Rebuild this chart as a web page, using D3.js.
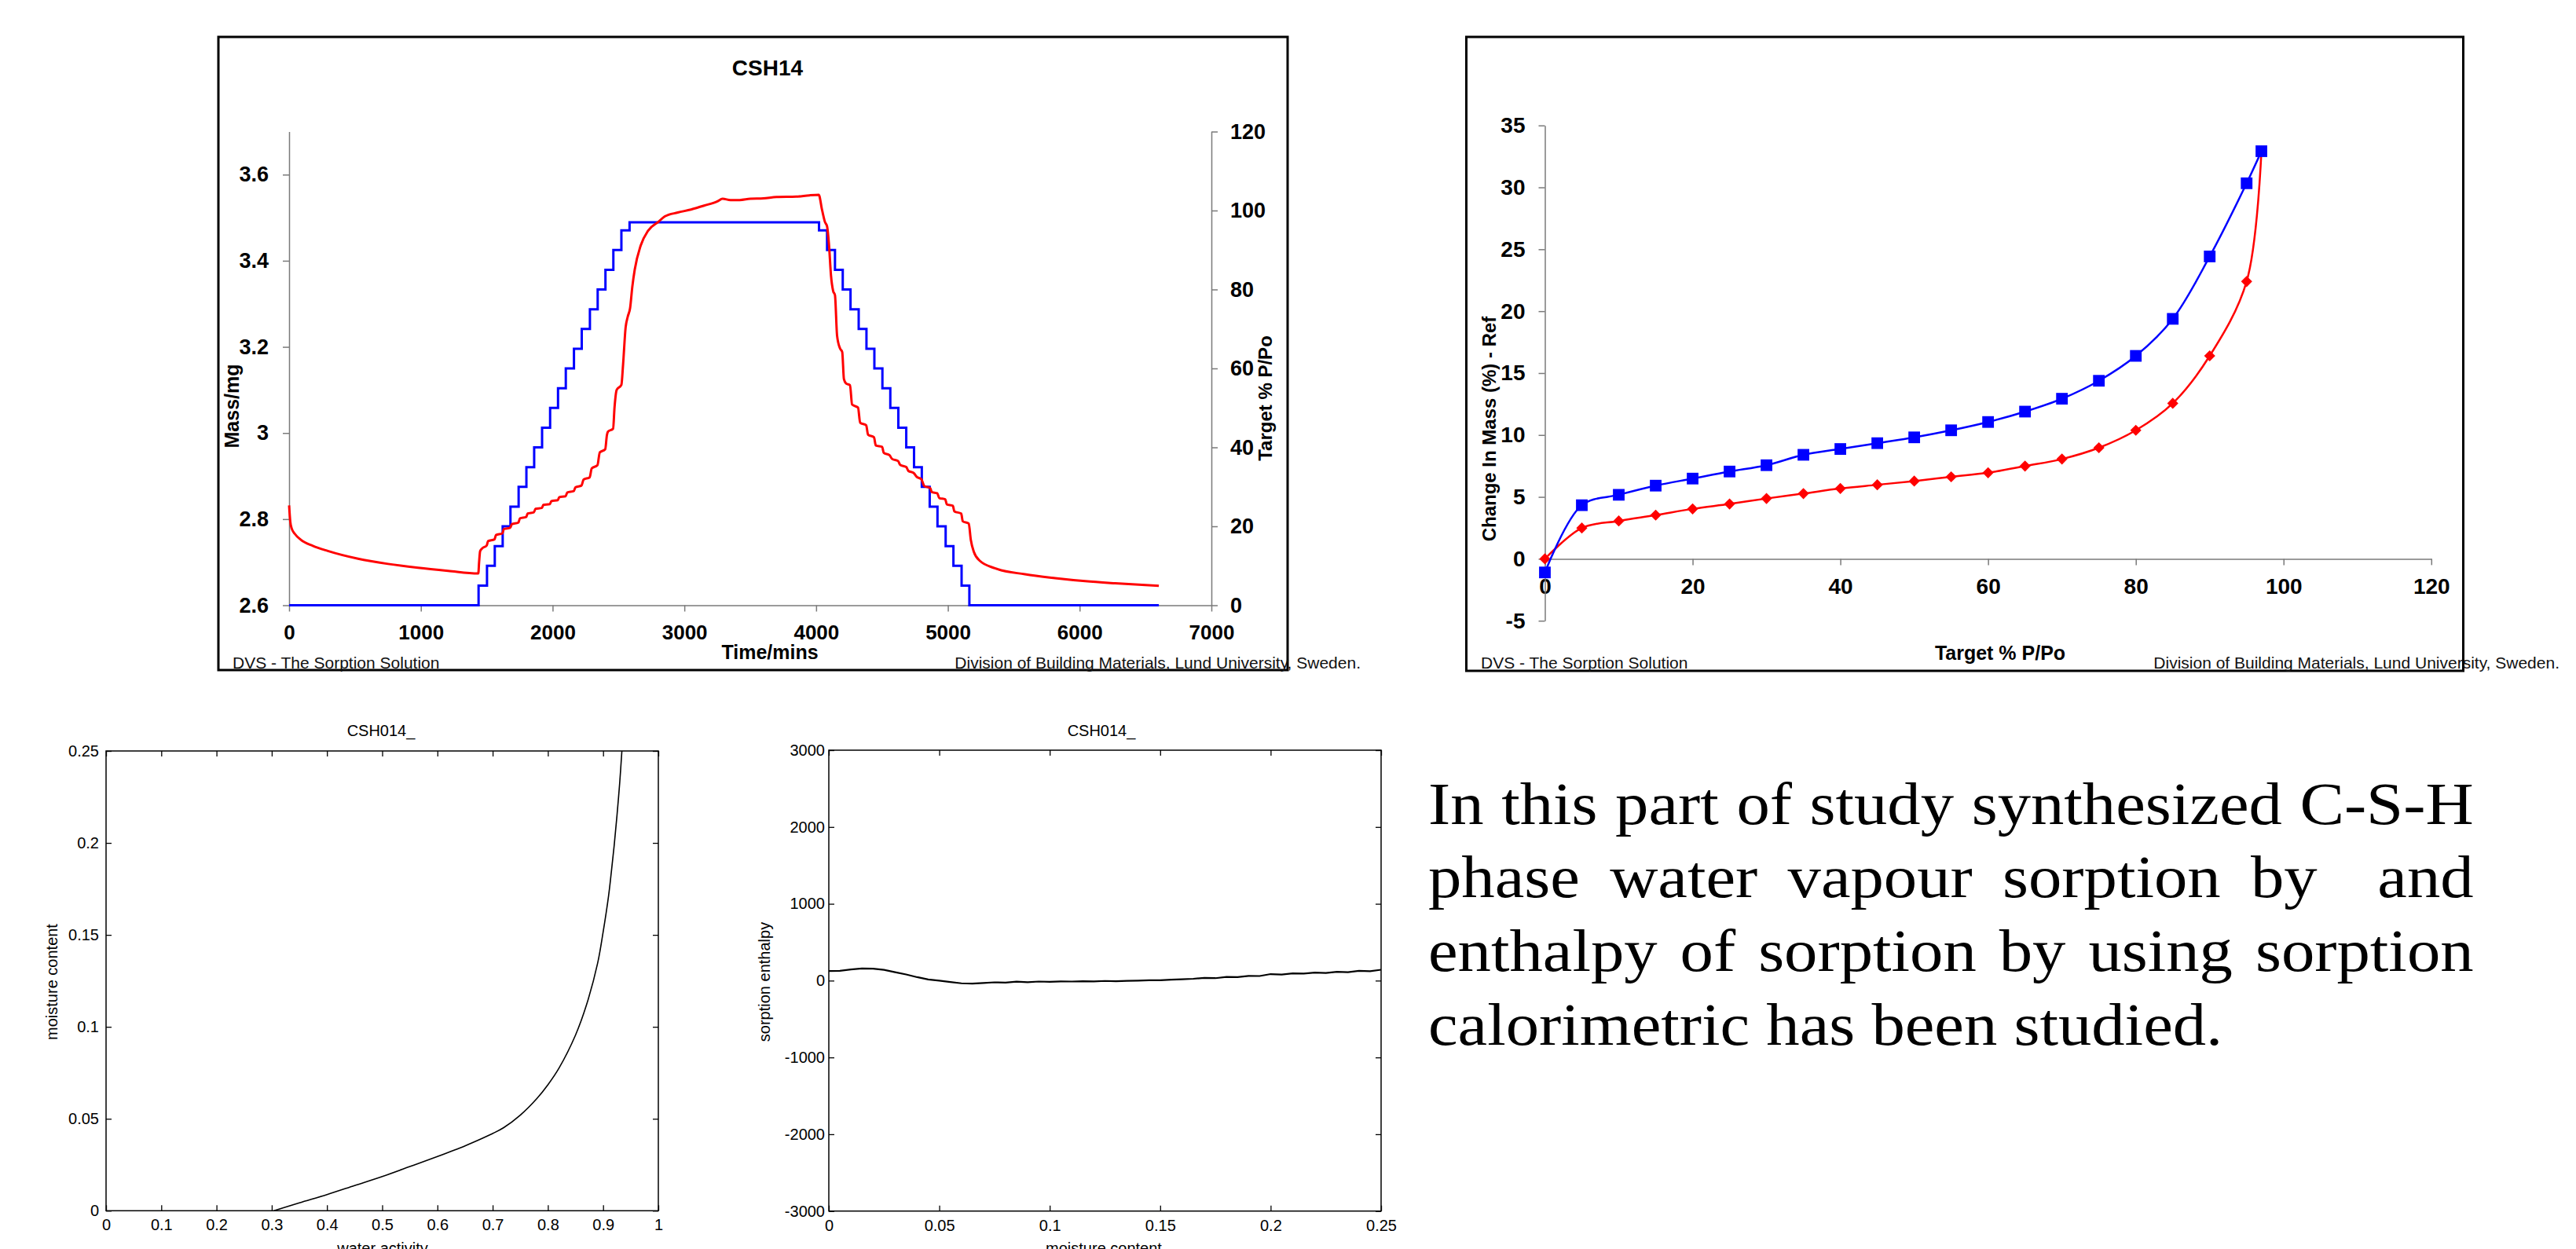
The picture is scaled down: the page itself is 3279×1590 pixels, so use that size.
<!DOCTYPE html>
<html><head><meta charset="utf-8">
<script src="https://cdn.jsdelivr.net/npm/d3@7"></script>
<style>
html,body{margin:0;padding:0;background:#fff;}
svg{display:block;}
</style></head><body>
<script>
// ---------- Chart 1: CSH14 DVS kinetics ----------
const massCurve = [
 [0,2.832],[9,2.794],[20,2.778],[43,2.766],[89,2.752],[180,2.738],[294,2.726],[523,2.708],[751,2.696],[979,2.687],[1207,2.680],[1436,2.674],
 [1442,2.700],[1450,2.726],[1465,2.732],[1500,2.739],
 [1510,2.749],[1559,2.753],[1570,2.763],[1619,2.767],[1630,2.777],[1678,2.780],[1690,2.788],[1740,2.792],[1752,2.802],[1799,2.805],[1811,2.813],
 [1858,2.816],[1870,2.824],[1918,2.826],[1930,2.833],[1979,2.835],[1991,2.842],[2039,2.844],[2051,2.851],[2098,2.853],[2112,2.862],[2160,2.865],
 [2174,2.874],[2219,2.878],[2235,2.892],[2281,2.897],[2297,2.918],[2340,2.925],[2358,2.955],[2399,2.962],[2412,2.995],[2420,3.003],[2459,3.010],
 [2470,3.060],[2486,3.100],[2522,3.112],[2535,3.160],[2554,3.245],[2570,3.270],[2588,3.290],[2605,3.340],[2623,3.379],[2668,3.435],[2725,3.470],
 [2805,3.491],[2851,3.503],[2950,3.512],[3050,3.519],[3150,3.528],[3250,3.538],[3290,3.544],[3350,3.541],[3420,3.541],[3500,3.544],[3600,3.545],
 [3700,3.548],[3850,3.549],[3950,3.552],[4020,3.553],
 [4045,3.518],[4067,3.490],[4083,3.480],[4097,3.440],[4113,3.365],[4129,3.330],[4143,3.320],[4159,3.226],[4182,3.196],[4198,3.188],[4211,3.125],
 [4227,3.115],[4257,3.111],[4273,3.066],[4318,3.059],[4334,3.024],[4380,3.018],[4394,2.996],[4439,2.990],[4453,2.971],[4501,2.968],[4513,2.954],
 [4558,2.948],[4576,2.940],[4622,2.935],[4638,2.926],[4684,2.921],[4700,2.912],[4741,2.907],[4764,2.898],[4798,2.893],[4821,2.877],[4866,2.872],
 [4878,2.863],[4919,2.860],[4935,2.849],[4980,2.846],[4992,2.834],[5038,2.831],[5049,2.818],[5101,2.813],[5113,2.795],[5158,2.790],[5174,2.752],
 [5197,2.724],[5243,2.703],[5357,2.686],[5585,2.672],[5814,2.663],[6042,2.656],[6270,2.651],[6601,2.645]
];
const rhTime = [0,1438,1502,1561,1621,1680,1742,1801,1860,1920,1981,2041,2100,2162,2221,2283,2342,2401,2461,2522,2584,
  4022,4083,4143,4202,4261,4323,4382,4442,4503,4563,4624,4684,4743,4802,4862,4921,4983,5042,5104,5163];
const rhLevel = [0,5,10,15,20,25,30,35,40,45,50,55,60,65,70,75,80,85,90,95,97,
  95,90,85,80,75,70,65,60,55,50,45,40,35,30,25,20,15,10,5,0];
const rhEndTime = 6601;
const timeTicks = [0,1000,2000,3000,4000,5000,6000,7000];
const massTicks = [2.6,2.8,3.0,3.2,3.4,3.6];
const rhTicks = [0,20,40,60,80,100,120];

// ---------- Chart 2: isotherm ----------
const isoRH  = [0,5,10,15,20,25,30,35,40,45,50,55,60,65,70,75,80,85,90,95,97];
const isoAds = [-1.1,4.33,5.17,5.91,6.48,7.05,7.56,8.40,8.87,9.34,9.81,10.38,11.05,11.89,12.93,14.38,16.39,19.38,24.42,30.33,32.92];
const isoDes = [0,2.49,3.06,3.53,4.03,4.43,4.87,5.27,5.68,5.98,6.28,6.62,6.95,7.49,8.06,8.97,10.38,12.56,16.39,22.40,32.92];
const isoXTicks = [0,20,40,60,80,100,120];
const isoYTicks = [-5,0,5,10,15,20,25,30,35];

// ---------- Chart 3: moisture content vs water activity ----------
const awValues = [0.304,0.35,0.4,0.45,0.5,0.55,0.6,0.65,0.68,0.7,0.72,0.75,0.78,0.8,0.82,0.85,0.87,0.89,0.9,0.91,0.915,0.92,0.925,0.93,0.934];
const mcValues = [0,0.0043,0.0088,0.0137,0.0186,0.024,0.0295,0.0353,0.0392,0.0420,0.0452,0.0520,0.0610,0.0685,0.0775,0.0955,0.1120,0.1345,0.1515,0.1715,0.1845,0.1985,0.2145,0.2325,0.25];
const awTicks = [0,0.1,0.2,0.3,0.4,0.5,0.6,0.7,0.8,0.9,1];
const mcTicks = [0,0.05,0.1,0.15,0.2,0.25];

// ---------- Chart 4: sorption enthalpy vs moisture content ----------
const enthMC = [0,0.005,0.01,0.015,0.02,0.025,0.03,0.035,0.04,0.045,0.05,0.055,0.06,0.065,0.07,0.075,0.08,0.085,0.09,0.095,
  0.1,0.105,0.11,0.115,0.12,0.125,0.13,0.135,0.14,0.145,0.15,0.155,0.16,0.165,0.17,0.175,0.18,0.185,0.19,0.195,
  0.2,0.205,0.21,0.215,0.22,0.225,0.23,0.235,0.24,0.245,0.25];
const enthValue = [125,128,145,158,155,140,110,80,45,15,0,-18,-35,-38,-30,-22,-25,-14,-20,-12,
  -15,-10,-12,-8,-10,-4,-8,-2,0,5,4,12,18,24,35,32,48,45,62,60,
  85,80,95,92,105,100,115,110,128,122,142];
const enthXTicks = [0,0.05,0.1,0.15,0.2,0.25];
const enthYTicks = [-3000,-2000,-1000,0,1000,2000,3000];

// ---------- Text ----------
const paraJustified = [
  ["In","this","part","of","study","synthesized","C-S-H"],
  ["phase","water","vapour","sorption","by","","and"],
  ["enthalpy","of","sorption","by","using","sorption"]
];
const paraLast = "calorimetric has been studied.";

// ================= drawing =================
const SANS = "'Liberation Sans', Arial, Helvetica, sans-serif";
const SERIF = "'Liberation Serif', 'Times New Roman', serif";
const svg = d3.select('body').append('svg').attr('width',3279).attr('height',1590);
svg.append('rect').attr('width',3279).attr('height',1590).attr('fill','#fff');

function txt(x,y,s,opt){
  opt = opt||{};
  const t = svg.append('text').attr('x',x).attr('y',y).text(s)
    .attr('font-family',opt.family||SANS).attr('font-size',opt.size||20)
    .attr('font-weight',opt.weight||'normal').attr('fill',opt.fill||'#000')
    .attr('text-anchor',opt.anchor||'start');
  if(opt.rotate) t.attr('transform',`rotate(${opt.rotate},${x},${y})`);
  return t;
}
function styleExcelAxis(g,fs){
  g.attr('font-size',null).attr('font-family',null);
  g.select('.domain').attr('stroke','#7a7a7a').attr('stroke-width',1.5);
  g.selectAll('.tick line').attr('stroke','#7a7a7a').attr('stroke-width',1.5);
  g.selectAll('.tick text').attr('font-family',SANS).attr('font-weight','bold').attr('font-size',fs).attr('fill','#000');
}
// plain ASCII hyphen for negatives, as in the reference
const fmt = d => String(+(+d).toFixed(4));

// ---- Chart 1 ----
svg.append('rect').attr('x',278).attr('y',47).attr('width',1639-278).attr('height',853-47)
  .attr('fill','none').attr('stroke','#000').attr('stroke-width',3);
const x1 = d3.scaleLinear().domain([0,7000]).range([368,1542]);
const yM = d3.scaleLinear().domain([2.6,3.7]).range([770.5,167.5]);
const yR = d3.scaleLinear().domain([0,120]).range([770.5,167.5]);
svg.append('g').attr('transform','translate(0,770.5)')
  .call(d3.axisBottom(x1).tickValues(timeTicks).tickFormat(fmt).tickSize(8).tickSizeOuter(0).tickPadding(17))
  .call(g=>styleExcelAxis(g,26));
svg.append('g').attr('transform','translate(368,0)')
  .call(d3.axisLeft(yM).tickValues(massTicks).tickFormat(fmt).tickSize(8).tickSizeOuter(0).tickPadding(18))
  .call(g=>styleExcelAxis(g,27));
svg.append('g').attr('transform','translate(1542,0)')
  .call(d3.axisRight(yR).tickValues(rhTicks).tickFormat(fmt).tickSize(8).tickSizeOuter(0).tickPadding(16))
  .call(g=>styleExcelAxis(g,27));
const rhSteps = rhTime.map((t,i)=>[t,rhLevel[i]]).concat([[rhEndTime,0]]);
svg.append('path').datum(rhSteps).attr('fill','none').attr('stroke','#0000ff').attr('stroke-width',3)
  .attr('d',d3.line().x(d=>x1(d[0])).y(d=>yR(d[1])).curve(d3.curveStepAfter));
svg.append('path').datum(massCurve).attr('fill','none').attr('stroke','#ff0000').attr('stroke-width',3)
  .attr('stroke-linejoin','round')
  .attr('d',d3.line().x(d=>x1(d[0])).y(d=>yM(d[1])).curve(d3.curveMonotoneX));
txt(977,96,'CSH14',{size:28,weight:'bold',anchor:'middle'});
txt(304,517,'Mass/mg',{size:25,weight:'bold',anchor:'middle',rotate:-90});
txt(980,839,'Time/mins',{size:25,weight:'bold',anchor:'middle'});
txt(1619,507,'Target % P/Po',{size:24,weight:'bold',anchor:'middle',rotate:-90});
txt(296,851,'DVS - The Sorption Solution',{size:21,fill:'#111'});
txt(1732,851,'Division of Building Materials, Lund University, Sweden.',{size:21,fill:'#111',anchor:'end'});

// ---- Chart 2 ----
svg.append('rect').attr('x',1866.5).attr('y',47).attr('width',3135.5-1866.5).attr('height',854-47)
  .attr('fill','none').attr('stroke','#000').attr('stroke-width',3);
const x2 = d3.scaleLinear().domain([0,120]).range([1966.5,3094.8]);
const y2 = d3.scaleLinear().domain([-5,35]).range([790.2,159.7]);
svg.append('g').attr('transform',`translate(0,${y2(0)})`)
  .call(d3.axisBottom(x2).tickValues(isoXTicks).tickFormat(fmt).tickSize(8).tickSizeOuter(0).tickPadding(17))
  .call(g=>styleExcelAxis(g,28));
svg.append('g').attr('transform',`translate(${x2(0)},0)`)
  .call(d3.axisLeft(y2).tickValues(isoYTicks).tickFormat(fmt).tickSize(8).tickSizeOuter(0).tickPadding(17))
  .call(g=>styleExcelAxis(g,28));
const smooth = d3.line().x(d=>x2(d[0])).y(d=>y2(d[1])).curve(d3.curveCatmullRom.alpha(0.5));
const desPts = isoRH.map((r,i)=>[r,isoDes[i]]);
const adsPts = isoRH.map((r,i)=>[r,isoAds[i]]);
svg.append('path').datum(desPts).attr('fill','none').attr('stroke','#ff0000').attr('stroke-width',2.5).attr('d',smooth);
svg.append('g').selectAll('path').data(desPts).join('path')
  .attr('d',d3.symbol(d3.symbolSquare,100))
  .attr('transform',d=>`translate(${x2(d[0])},${y2(d[1])}) rotate(45)`).attr('fill','#ff0000');
svg.append('path').datum(adsPts).attr('fill','none').attr('stroke','#0000ff').attr('stroke-width',2.5).attr('d',smooth);
svg.append('g').selectAll('path').data(adsPts).join('path')
  .attr('d',d3.symbol(d3.symbolSquare,220))
  .attr('transform',d=>`translate(${x2(d[0])},${y2(d[1])})`).attr('fill','#0000ff');
txt(1904,546,'Change In Mass (%) - Ref',{size:24,weight:'bold',anchor:'middle',rotate:-90});
txt(2546,840,'Target % P/Po',{size:25,weight:'bold',anchor:'middle'});
txt(1885,851,'DVS - The Sorption Solution',{size:21,fill:'#111'});
txt(3258,851,'Division of Building Materials, Lund University, Sweden.',{size:21,fill:'#111',anchor:'end'});

// ---- MATLAB-style charts ----
function matlabFrame(xs,ys,xt,yt,lpad){
  const [xa,xb] = xs.range(), [ya,yb] = ys.range();
  const styleM = g=>{
    g.attr('font-size',null).attr('font-family',null);
    g.select('.domain').remove();
    g.selectAll('.tick line').attr('stroke','#000').attr('stroke-width',1.3);
    g.selectAll('.tick text').attr('font-family',SANS).attr('font-size',20).attr('fill','#000');
  };
  svg.append('g').attr('transform',`translate(0,${ya})`)
    .call(d3.axisBottom(xs).tickValues(xt).tickFormat(fmt).tickSize(-7).tickPadding(11)).call(styleM);
  svg.append('g').attr('transform',`translate(0,${yb})`)
    .call(d3.axisTop(xs).tickValues(xt).tickFormat('').tickSize(-7)).call(styleM);
  svg.append('g').attr('transform',`translate(${xa},0)`)
    .call(d3.axisLeft(ys).tickValues(yt).tickFormat(fmt).tickSize(-7).tickPadding(lpad)).call(styleM);
  svg.append('g').attr('transform',`translate(${xb},0)`)
    .call(d3.axisRight(ys).tickValues(yt).tickFormat('').tickSize(-7)).call(styleM);
  svg.append('rect').attr('x',xa).attr('y',yb).attr('width',xb-xa).attr('height',ya-yb)
    .attr('fill','none').attr('stroke','#000').attr('stroke-width',1.5);
}
// Chart 3
const x3 = d3.scaleLinear().domain([0,1]).range([135,838]);
const y3 = d3.scaleLinear().domain([0,0.25]).range([1541.3,956]);
matlabFrame(x3,y3,awTicks,mcTicks,9);
svg.append('path').datum(awValues.map((a,i)=>[a,mcValues[i]])).attr('fill','none').attr('stroke','#000').attr('stroke-width',1.6)
  .attr('d',d3.line().x(d=>x3(d[0])).y(d=>y3(d[1])).curve(d3.curveCatmullRom.alpha(0.5)));
txt(485,937,'CSH014_',{size:20,anchor:'middle'});
txt(73,1250,'moisture content',{size:20,anchor:'middle',rotate:-90});
txt(487,1596,'water activity',{size:20,anchor:'middle'});

// Chart 4
const x4 = d3.scaleLinear().domain([0,0.25]).range([1055,1758]);
const y4 = d3.scaleLinear().domain([-3000,3000]).range([1541.7,955]);
matlabFrame(x4,y4,enthXTicks,enthYTicks,5);
svg.append('path').datum(enthMC.map((m,i)=>[m,enthValue[i]])).attr('fill','none').attr('stroke','#000').attr('stroke-width',2.2)
  .attr('d',d3.line().x(d=>x4(d[0])).y(d=>y4(d[1])));
txt(1402,937,'CSH014_',{size:20,anchor:'middle'});
txt(980,1250,'sorption enthalpy',{size:20,anchor:'middle',rotate:-90});
txt(1405,1596,'moisture content',{size:20,anchor:'middle'});

// ---- Paragraph ----
const paraBase = [1049,1142,1236,1330];
const PF = 77, SX = 1.1, W = (3148.6-1818)/SX;
const pg = svg.append('g').attr('transform',`translate(1818,0) scale(${SX},1)`);
function measure(s){
  const t = pg.append('text').attr('font-family',SERIF).attr('font-size',PF).text(s);
  const w = s ? t.node().getComputedTextLength() : 0; t.remove(); return w;
}
paraJustified.forEach((words,i)=>{
  const widths = words.map(measure);
  const gap = (W - d3.sum(widths))/(words.length-1);
  let x = 0;
  words.forEach((w,j)=>{
    if(w) pg.append('text').attr('x',x).attr('y',paraBase[i]).attr('font-family',SERIF).attr('font-size',PF).attr('fill','#000').text(w);
    x += widths[j]+gap;
  });
});
pg.append('text').attr('x',0).attr('y',paraBase[3]).attr('font-family',SERIF).attr('font-size',PF).attr('fill','#000').text(paraLast);
</script>
</body></html>
